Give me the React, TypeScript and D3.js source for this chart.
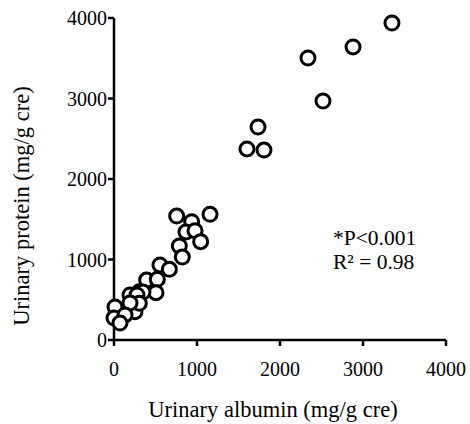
import React from "react";
import * as d3 from "d3";

// Urinary albumin vs urinary protein (mg/g cre), one point per sample
const albumin = [
  3349, 2880, 2337, 2518, 1735, 1602, 1807,
  755, 936, 1157, 867, 976, 1044, 787, 823, 554, 667, 393, 522, 506,
  193, 305, 253, 349, 277, 305, 12, 0, 193, 133, 72,
];
const protein = [
  3938, 3640, 3503, 2969, 2646, 2373, 2360,
  1540, 1470, 1561, 1342, 1358, 1222, 1168, 1030, 932, 878, 745, 754, 588,
  559, 600, 352, 596, 559, 456, 410, 273, 460, 311, 211,
];
const xTicks = [0, 1000, 2000, 3000, 4000];
const yTicks = [0, 1000, 2000, 3000, 4000];
const xTitle = "Urinary albumin (mg/g cre)";
const yTitle = "Urinary protein (mg/g cre)";
const statLines = ["*P<0.001", "R\u00b2 = 0.98"];

const W = 470;
const H = 424;
const FONT = "'Liberation Serif', 'Times New Roman', serif";

export default function App() {
  const x = d3.scaleLinear().domain([0, 4000]).range([114, 446]);
  const y = d3.scaleLinear().domain([0, 4000]).range([340, 18]);
  const pts = albumin.map((a, i) => ({ a, p: protein[i] }));
  const axisW = 2.5;
  const tick = 6;

  return (
    <svg
      width={W}
      height={H}
      style={{ position: "absolute", left: 0, top: 0, background: "#fff" }}
      fontFamily={FONT}
    >
      {/* axes */}
      <g stroke="#000" strokeWidth={axisW} fill="none">
        <line x1={x(0)} x2={x(0)} y1={y(4000)} y2={y(0)} />
        <line x1={x(0)} x2={x(4000)} y1={y(0)} y2={y(0)} />
        {yTicks.map((t) => (
          <line key={"yt" + t} x1={x(0) - tick} x2={x(0)} y1={y(t)} y2={y(t)} />
        ))}
        {xTicks.map((t) => (
          <line key={"xt" + t} x1={x(t)} x2={x(t)} y1={y(0)} y2={y(0) + tick} />
        ))}
      </g>
      {yTicks.map((t) => (
        <text
          key={"yl" + t}
          x={x(0) - 7}
          y={y(t)}
          dy="0.35em"
          textAnchor="end"
          fontSize={20}
        >
          {t}
        </text>
      ))}
      {xTicks.map((t) => (
        <text
          key={"xl" + t}
          x={x(t)}
          y={y(0) + 36}
          textAnchor="middle"
          fontSize={20}
        >
          {t}
        </text>
      ))}
      <text x={273} y={417} textAnchor="middle" fontSize={22.5}>
        {xTitle}
      </text>
      <text
        transform={`translate(29, 206) rotate(-90)`}
        textAnchor="middle"
        fontSize={22.5}
      >
        {yTitle}
      </text>
      {statLines.map((s, i) => (
        <text key={s} x={333} y={245 + i * 23.5} fontSize={21.5}>
          {s}
        </text>
      ))}
      {/* points */}
      <g fill="#fff" stroke="#000" strokeWidth={3}>
        {pts.map((d, i) => (
          <circle key={i} cx={x(d.a)} cy={y(d.p)} r={7} />
        ))}
      </g>
    </svg>
  );
}
